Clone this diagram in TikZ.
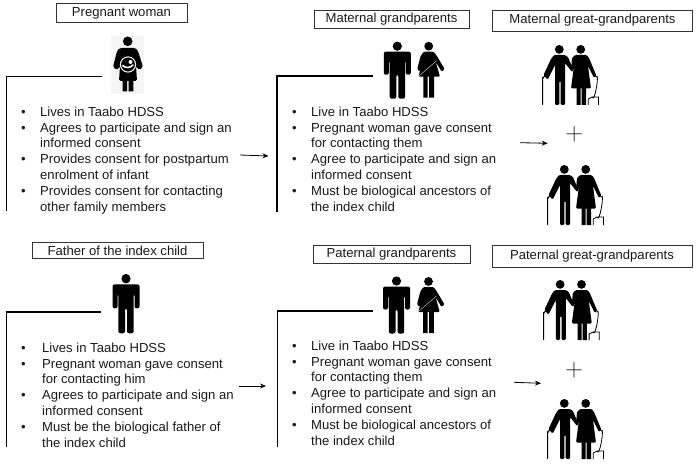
\documentclass[tikz,border=0pt]{standalone}
\usepackage{fontspec}
\usetikzlibrary{arrows.meta}
\setmainfont{Liberation Sans}
\newcommand{\bl}{\makebox[19pt][l]{•}}
\newcommand{\nb}{\hspace*{19pt}}
\tikzset{
  x=1pt,y=-1pt,
  titlebox/.style={draw=black!80,line width=0.8pt,font=\fontsize{13.1}{14}\selectfont,inner sep=0pt,text=black!90},
  listtext/.style={anchor=north west,align=left,inner sep=0pt,font=\fontsize{13.1}{15.85}\selectfont,text=black!90},
  plussign/.style={inner sep=0pt,font=\fontsize{24}{24}\selectfont,text=black!85},
  elbow/.style={draw=black,line width=1.2pt},
  arr/.style={draw=black,line width=0.8pt,-{Stealth[length=6pt,width=5pt]}},
  man/.pic={
    \fill[black] (0,4.5) circle (4.6);
    \fill[black,rounded corners=2pt] (-13.5,10) -- (13.5,10) -- (13.5,33) -- (8.5,33) -- (8.5,19) -- (7.7,19) -- (7.7,57) -- (1,57) -- (1,33) -- (-1,33) -- (-1,57) -- (-7.7,57) -- (-7.7,19) -- (-8.5,19) -- (-8.5,33) -- (-13.5,33) -- cycle;
  },
  woman/.pic={
    \fill[black] (0,4.5) circle (4.4);
    \fill[black,rounded corners=1.2pt] (-5,10) -- (5,10) -- (8,14) -- (16,27.5) -- (13,30) -- (7,20) -- (11.3,35) -- (-10.3,35) -- (-6,20) -- (-9,30) -- (-11.5,27.5) -- (-8,14) -- cycle;
    \fill[black] (-5.3,34) rectangle (-1,56) (0.5,34) rectangle (5.3,56);
    \draw[white!85!black,line width=0.4pt] (-10,34.5) -- (8,19);
  },
  oldpair/.pic={
    % man
    \fill[black] (-10.7,4.4) circle (4.4);
    \fill[black,rounded corners=1.2pt] (-16,10) -- (-5,10) -- (-2,12) -- (3.5,25.5) -- (2,27) -- (-5,18) -- (-5,60) -- (-9.3,60) -- (-9.3,36) -- (-10.7,36) -- (-10.7,60) -- (-15,60) -- (-15,20) -- (-22.3,34.7) -- (-26.5,30) -- (-19,14) -- cycle;
    % woman
    \fill[black] (10.7,4.4) circle (4.4);
    \fill[black,rounded corners=1.2pt] (5,10) -- (16.7,10) -- (19,13) -- (26.5,31) -- (24,33) -- (18,21) -- (21,43.5) -- (1,43.5) -- (4,21) -- (2.5,26.5) -- (1,25) -- (2,13) -- cycle;
    \fill[black] (6.7,43) rectangle (10.7,60) (11.7,43) rectangle (16,60);
    % cane and walker
    \draw[black,line width=1pt,line cap=round] (-27.3,59.5) -- (-27.3,33) to[out=-90,in=180] (-24,30);
    \draw[black,line width=0.8pt] (26,32) to[out=60,in=-70] (22,52) -- (18.3,54) -- (18.3,60) (22,52) -- (28.5,52) -- (28.5,60);
  },
}
\begin{document}
\begin{tikzpicture}
\useasboundingbox (0,0) rectangle (698,465);
% title boxes
\node[titlebox,minimum width=131pt,minimum height=19pt] (t1) at (121.5,13) {Pregnant woman};
\node[titlebox,minimum width=155pt,minimum height=18pt] (t2) at (391.5,19.5) {Maternal grandparents};
\node[titlebox,minimum width=200pt,minimum height=21pt] (t3) at (592.5,20.5) {Maternal great-grandparents};
\node[titlebox,minimum width=171pt,minimum height=16pt] (t4) at (117.5,250.5) {Father of the index child};
\node[titlebox,minimum width=157pt,minimum height=18pt] (t5) at (391.5,254) {Paternal grandparents};
\node[titlebox,minimum width=200pt,minimum height=22pt] (t6) at (592,256) {Paternal great-grandparents};
% figures
\fill[black!4] (111,36) rectangle (144,94);
\fill[black] (127.7,41.3) circle (4.8);
\fill[black,rounded corners=1.5pt] (120,48) -- (135.5,48) -- (138,51) -- (143,67) -- (139,70) -- (136,66) -- (137,81) -- (119,81) -- (120,66) -- (117,70) -- (113,67) -- (117,51) -- cycle;
\fill[black] (122.7,80) rectangle (127,91.5) (128.7,80) rectangle (133.3,91.5);
\draw[white,line width=1pt] (128,64.5) circle (7.6);
\draw[white,line width=1.6pt,line cap=round] (122.5,65.5) .. controls (126,68.5) and (130,68) .. (133,65);
\fill[white] (130.5,62) circle (2);
\pic at (397.3,41.7) {man};
\pic at (428.7,41.7) {woman};
\pic[yscale=1.04] at (126,274) {man};
\pic at (396.5,276.5) {man};
\pic at (428.5,277) {woman};
\pic at (570,45) {oldpair};
\pic at (575,165) {oldpair};
\pic at (570.8,280) {oldpair};
\pic at (575,399) {oldpair};
% plus signs
\node[plussign] (p1) at (574.3,134) {$+$};
\node[plussign] (p2) at (574,370) {$+$};
% elbows
\coordinate (e1a) at (102,76.5); \coordinate (e1b) at (6.5,76.5); \coordinate (e1c) at (6.5,211);
\coordinate (e2a) at (373,76); \coordinate (e2b) at (277,76); \coordinate (e2c) at (277,211.5);
\coordinate (e3a) at (101,312); \coordinate (e3b) at (6.5,312); \coordinate (e3c) at (6.5,447);
\coordinate (e4a) at (372.5,311); \coordinate (e4b) at (277.5,311); \coordinate (e4c) at (277.5,447);
\draw[elbow] (e1a) -- (e1b) -- (e1c);
\draw[elbow] (e2a) -- (e2b) -- (e2c);
\draw[elbow] (e3a) -- (e3b) -- (e3c);
\draw[elbow] (e4a) -- (e4b) -- (e4c);
% arrows
\coordinate (a1a) at (240,155); \coordinate (a1b) at (268.5,156);
\coordinate (a2a) at (520,142.7); \coordinate (a2b) at (547.7,143.3);
\coordinate (a3a) at (239,386); \coordinate (a3b) at (266,386);
\coordinate (a4a) at (514,382.3); \coordinate (a4b) at (541,383.3);
\draw[arr] (a1a) -- (a1b);
\draw[arr] (a2a) -- (a2b);
\draw[arr] (a3a) -- (a3b);
\draw[arr] (a4a) -- (a4b);
% lists
\node[listtext] (l1) at (21,106.5) {\bl Lives in Taabo HDSS\\\bl Agrees to participate and sign an\\\nb informed consent\\\bl Provides consent for postpartum\\\nb enrolment of infant\\\bl Provides consent for contacting\\\nb other family members};
\node[listtext] (l2) at (292,106.5) {\bl Live in Taabo HDSS\\\bl Pregnant woman gave consent\\\nb for contacting them\\\bl Agree to participate and sign an\\\nb informed consent\\\bl Must be biological ancestors of\\\nb the index child};
\node[listtext] (l3) at (21,342.5) {\bl\hspace{2pt}Lives in Taabo HDSS\\\bl\hspace{2pt}Pregnant woman gave consent\\\nb\hspace{2pt}for contacting him\\\bl\hspace{2pt}Agrees to participate and sign an\\\nb\hspace{2pt}informed consent\\\bl\hspace{2pt}Must be the biological father of\\\nb\hspace{2pt}the index child};
\node[listtext] (l4) at (292,340.5) {\bl Live in Taabo HDSS\\\bl Pregnant woman gave consent\\\nb for contacting them\\\bl Agree to participate and sign an\\\nb informed consent\\\bl Must be biological ancestors of\\\nb the index child};
\end{tikzpicture}
\end{document}
